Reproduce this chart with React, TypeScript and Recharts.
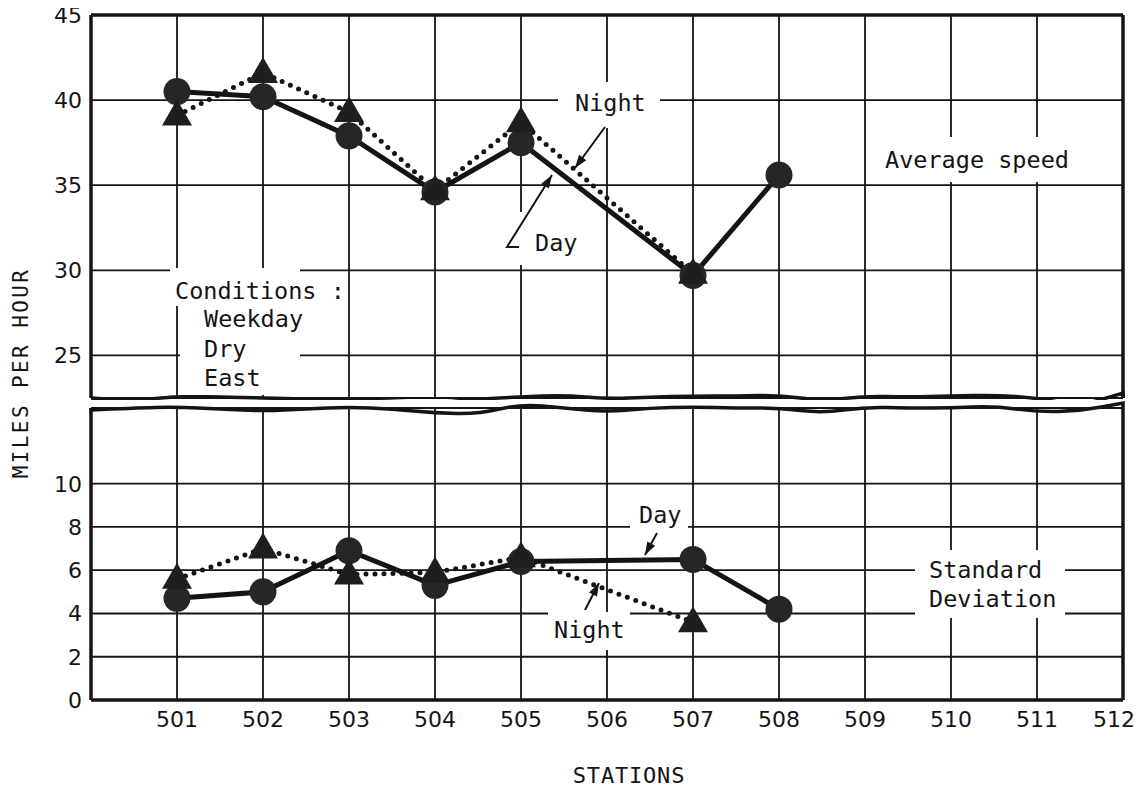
import { LineChart, Line, XAxis, YAxis, CartesianGrid, ReferenceLine } from "recharts";

// stations along the road (506 has no reading)
const stations = [501, 502, 503, 504, 505, 507, 508];
const speedDay = [40.5, 40.2, 37.9, 34.6, 37.5, 29.7, 35.6];
const speedNight = [39.1, 41.6, 39.3, 34.7, 38.7, 29.8, null];
const sdDay = [4.7, 5.0, 6.9, 5.3, 6.4, 6.5, 4.2];
const sdNight = [5.6, 7.0, 5.8, 5.9, 6.6, 3.6, null];

const stationTicks = [501, 502, 503, 504, 505, 506, 507, 508, 509, 510, 511, 512];
const speedTicks = [25, 30, 35, 40, 45];
const sdTicks = [0, 2, 4, 6, 8, 10];

// hand-drawn look of the axis break (pixel offsets, every half station)
const upperWave = [0, 3, -2, -1, 0, 1, 2, 3, 5, 1, -1, -3, 1, -1, -2, -2, -3, 3, -2, -1, -2, -3, 0, 8, -5];
const lowerWave = [2, 0, -1, 1, 3, 1, -1, 1, 5, 6, -4, 0, 4, 0, -1, 0, 0, 5, -1, 0, 0, -2, 4, 3, -5];

const speedData = stations.map((s, i) => ({ station: s, day: speedDay[i], night: speedNight[i] }));
const sdData = stations.map((s, i) => ({ station: s, day: sdDay[i], night: sdNight[i] }));

const INK = "#141414";
const MONO = '"DejaVu Sans Mono", monospace';
const SANS = '"DejaVu Sans", sans-serif';
const tickStyle = { fontFamily: SANS, fontSize: 22, fill: INK };

function wavePath(x1: number, x2: number, y: number, offs: number[]) {
  const n = offs.length - 1;
  const pts = offs.map((o, i) => [x1 + ((x2 - x1) * i) / n, y + o]);
  let d = `M${x1},${y} L${pts[0][0]},${pts[0][1]}`;
  for (let i = 1; i < n; i++) {
    const mx = (pts[i][0] + pts[i + 1][0]) / 2;
    const my = (pts[i][1] + pts[i + 1][1]) / 2;
    d += ` Q${pts[i][0]},${pts[i][1]} ${mx},${my}`;
  }
  d += ` L${pts[n][0]},${pts[n][1]} L${x2},${y}`;
  return d;
}

const CircleDot = (p: any) =>
  p.cy == null ? <g key={`c${p.index}`} /> : <circle key={`c${p.index}`} cx={p.cx} cy={p.cy} r={13.5} fill="#262626" />;

const TriangleDot = (p: any) =>
  p.cy == null ? (
    <g key={`t${p.index}`} />
  ) : (
    <polygon
      key={`t${p.index}`}
      points={`${p.cx},${p.cy - 16} ${p.cx - 15},${p.cy + 10} ${p.cx + 15},${p.cy + 10}`}
      fill="#1e1e1e"
    />
  );

// last station label sits against the page edge, nudge it in a little
const StationTick = (p: any) => (
  <text
    x={p.payload.value === 512 ? p.x - 9 : p.x}
    y={p.y}
    dy="0.71em"
    textAnchor="middle"
    fontFamily={SANS}
    fontSize={22}
    fill={INK}
  >
    {p.payload.value}
  </text>
);

function Arrow({ pts }: { pts: number[][] }) {
  const [x1, y1] = pts[pts.length - 2];
  const [x2, y2] = pts[pts.length - 1];
  const a = Math.atan2(y2 - y1, x2 - x1);
  const L = 13, W = 4.5;
  const bx = x2 - L * Math.cos(a), by = y2 - L * Math.sin(a);
  const head = `${x2},${y2} ${bx + W * Math.sin(a)},${by - W * Math.cos(a)} ${bx - W * Math.sin(a)},${by + W * Math.cos(a)}`;
  return (
    <g>
      <polyline points={pts.map((p) => p.join(",")).join(" ")} fill="none" stroke={INK} strokeWidth={2} />
      <polygon points={head} fill={INK} />
    </g>
  );
}

const frame = { stroke: INK, strokeWidth: 3.5 };

export default function App() {
  return (
    <div style={{ position: "relative", width: 1134, height: 775, background: "#fff" }}>
      <div style={{ position: "absolute", left: 0, top: -8 }}>
        <LineChart width={1134} height={400} data={speedData} margin={{ top: 15, right: 19, left: 0, bottom: 2 }}>
          <CartesianGrid stroke={INK} strokeWidth={1.8} />
          <XAxis dataKey="station" type="number" domain={[500, 512]} ticks={stationTicks} hide />
          <YAxis
            type="number"
            domain={[22.5, 45]}
            ticks={speedTicks}
            width={83}
            interval={0}
            axisLine={false}
            tickLine={false}
            tickSize={0}
            tickMargin={9}
            tick={tickStyle}
          />
          <ReferenceLine x={500} {...frame} />
          <ReferenceLine x={512} {...frame} />
          <ReferenceLine y={45} {...frame} />
          <ReferenceLine
            y={22.5}
            shape={(p: any) => (
              <path d={wavePath(p.x1, p.x2, p.y1, upperWave)} fill="none" stroke={INK} strokeWidth={3.5} />
            )}
          />
          <Line dataKey="day" stroke={INK} strokeWidth={5} dot={CircleDot} activeDot={false} isAnimationActive={false} />
          <Line
            dataKey="night"
            stroke={INK}
            strokeWidth={5}
            strokeDasharray="0 9"
            strokeLinecap="round"
            dot={TriangleDot}
            activeDot={false}
            isAnimationActive={false}
          />
        </LineChart>
      </div>
      <div style={{ position: "absolute", left: 0, top: 0 }}>
        <LineChart width={1134} height={775} data={sdData} margin={{ top: 400, right: 19, left: 0, bottom: 0 }}>
          <CartesianGrid stroke={INK} strokeWidth={1.8} />
          <XAxis
            dataKey="station"
            type="number"
            domain={[500, 512]}
            ticks={stationTicks}
            interval={0}
            height={83}
            axisLine={false}
            tickLine={false}
            tickSize={0}
            tickMargin={11}
            tick={StationTick}
          />
          <YAxis
            type="number"
            domain={[0, 13.5]}
            ticks={sdTicks}
            width={83}
            interval={0}
            axisLine={false}
            tickLine={false}
            tickSize={0}
            tickMargin={9}
            tick={tickStyle}
          />
          <ReferenceLine x={500} {...frame} />
          <ReferenceLine x={512} {...frame} />
          <ReferenceLine y={0} {...frame} />
          <ReferenceLine
            y={13.5}
            shape={(p: any) => (
              <path d={wavePath(p.x1, p.x2, p.y1, lowerWave)} fill="none" stroke={INK} strokeWidth={3.5} />
            )}
          />
          <Line dataKey="day" stroke={INK} strokeWidth={5} dot={CircleDot} activeDot={false} isAnimationActive={false} />
          <Line
            dataKey="night"
            stroke={INK}
            strokeWidth={5}
            strokeDasharray="0 9"
            strokeLinecap="round"
            dot={TriangleDot}
            activeDot={false}
            isAnimationActive={false}
          />
        </LineChart>
      </div>
      <svg
        width={1134}
        height={780}
        style={{ position: "absolute", left: 0, top: 0, pointerEvents: "none" }}
        fontFamily={MONO}
        fill={INK}
      >
        <rect x={550} y={74} width={102} height={46} fill="#fff" />
        <rect x={492} y={204} width={80} height={53} fill="#fff" />
        <rect x={862} y={129} width={210} height={45} fill="#fff" />
        <rect x={162} y={260} width={130} height={38} fill="#fff" />
        <rect x={172} y={298} width={120} height={89} fill="#fff" />
        <rect x={907} y={542} width={150} height={68} fill="#fff" />
        <rect x={622} y={492} width={58} height={33} fill="#fff" />
        <rect x={540} y={604} width={82} height={38} fill="#fff" />

        <g fontSize={23.5}>
          <text x={567} y={103}>Night</text>
          <text x={527} y={243}>Day</text>
          <text x={877} y={160}>Average speed</text>
          <text x={167} y={291}>Conditions :</text>
          <text x={196} y={319}>Weekday</text>
          <text x={196} y={349}>Dry</text>
          <text x={196} y={378}>East</text>
          <text x={921} y={570}>Standard</text>
          <text x={921} y={599}>Deviation</text>
          <text x={631} y={515}>Day</text>
          <text x={546} y={630}>Night</text>
        </g>

        <Arrow pts={[[597, 119], [567, 160]]} />
        <Arrow pts={[[511, 239], [499, 239], [544, 167]]} />
        <Arrow pts={[[649, 525], [637, 547]]} />
        <Arrow pts={[[577, 602], [591, 575]]} />

        <text x={621} y={775} fontSize={22} letterSpacing={0.8} textAnchor="middle">
          STATIONS
        </text>
        <text
          x={0}
          y={0}
          fontSize={21}
          letterSpacing={2.4}
          textAnchor="middle"
          transform="translate(20,365) rotate(-90)"
        >
          MILES PER HOUR
        </text>
      </svg>
    </div>
  );
}
